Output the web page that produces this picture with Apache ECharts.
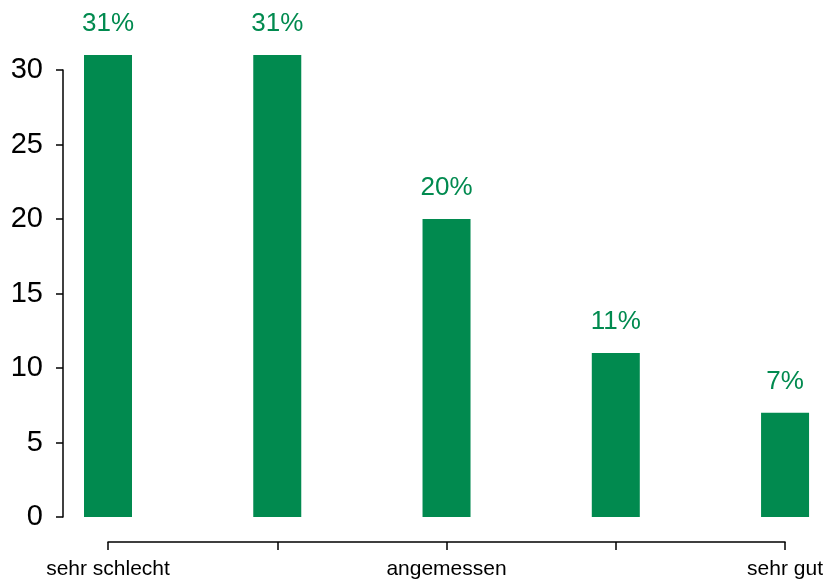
<!DOCTYPE html>
<html><head><meta charset="utf-8">
<script src="https://cdn.jsdelivr.net/npm/echarts@6/dist/echarts.min.js"></script>
<style>html,body{margin:0;padding:0;background:#fff}#c{width:826px;height:581px}</style>
</head><body><div id="c"></div>
<script>
var categories = ["sehr schlecht", "schlecht", "angemessen", "gut", "sehr gut"];
var tickLabels = ["sehr schlecht", "", "angemessen", "", "sehr gut"];
var values = [31, 31, 20, 11, 7];
var yTicks = [0, 5, 10, 15, 20, 25, 30];

var green = "#018A4F";
var font = "'Liberation Sans', Arial, Helvetica, sans-serif";
var chart = echarts.init(document.getElementById('c'));
chart.setOption({
  animation: false,
  grid: {left: 108, right: 40, top: 70, bottom: 64},
  xAxis: {
    type: 'category', data: categories, boundaryGap: false, offset: 25,
    axisLine: {onZero: false, lineStyle: {color: '#000', width: 1.5}},
    axisTick: {length: 8, lineStyle: {color: '#000', width: 1.5}},
    axisLabel: {margin: 17, fontSize: 21, color: '#000', fontFamily: font,
      formatter: function (v, i) { return tickLabels[i]; }},
    splitLine: {show: false}
  },
  yAxis: {
    type: 'value', min: yTicks[0], max: yTicks[yTicks.length - 1], interval: 5, offset: 45,
    axisLine: {show: true, lineStyle: {color: '#000', width: 1.5}},
    axisTick: {show: true, length: 7, lineStyle: {color: '#000', width: 1.5}},
    axisLabel: {margin: 20, fontSize: 29, color: '#000', fontFamily: font},
    splitLine: {show: false}
  },
  series: [{
    type: 'bar', data: values, barWidth: 48, clip: false,
    itemStyle: {color: green},
    label: {show: true, position: 'top', distance: 18, fontSize: 26, color: green, fontFamily: font,
      formatter: function (p) { return p.value + '%'; }}
  }]
});
</script></body></html>
